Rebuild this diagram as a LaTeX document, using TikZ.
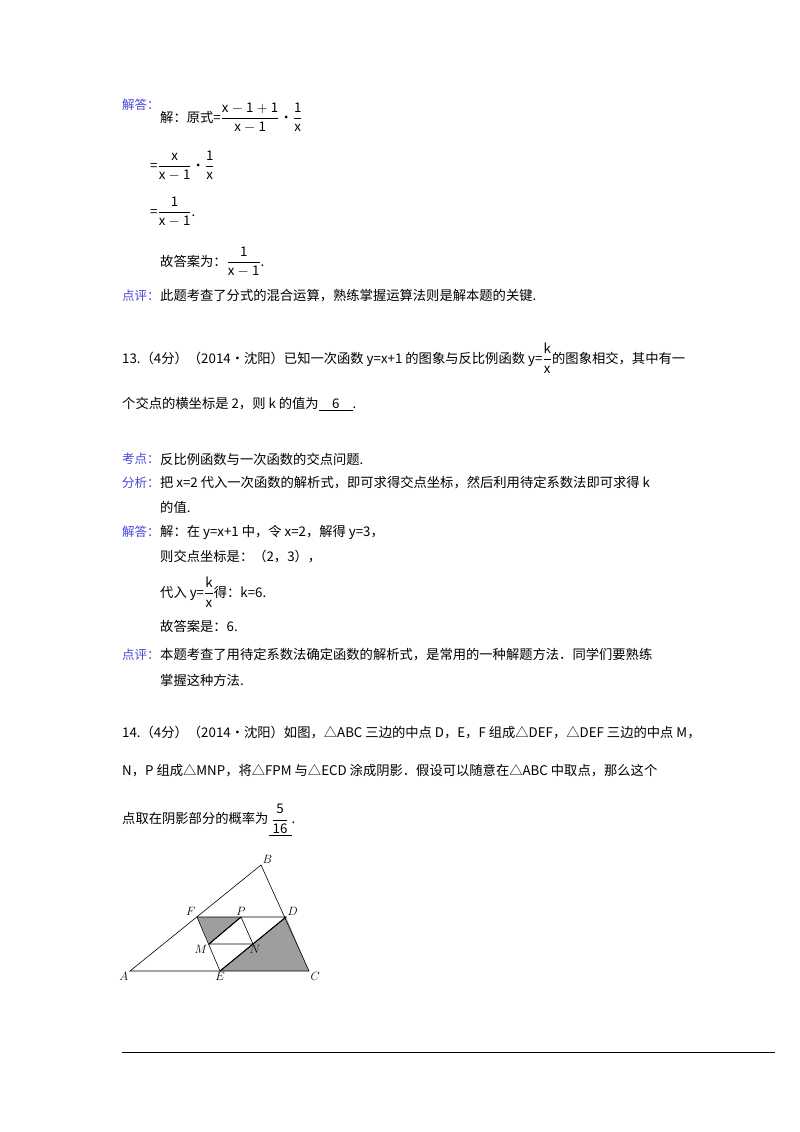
\documentclass[tikz,border=0pt]{standalone}
\usepackage{fontspec}
\usetikzlibrary{calc}
\setmainfont{Noto Sans CJK SC}
\definecolor{lab}{RGB}{70,70,220}
\newcommand{\fr}[2]{$\displaystyle\frac{\mathrm{#1}}{\mathrm{#2}}$}
\begin{document}
\begin{tikzpicture}[x=1pt,y=-1pt,
 t/.style={anchor=west,inner sep=0pt,font=\fontsize{13.3pt}{15pt}\selectfont},
 lb/.style={t,text=lab,font=\fontsize{12.5pt}{15pt}\selectfont},
 shade/.style={fill=black!38},
 seg/.style={line width=0.6pt}]
\useasboundingbox (0,0) rectangle (800,1132);
\node[lb] (l1) at (122,105) {解答：};
\node[t] (s1) at (160,118) {解：原式=\fr{x-1+1}{x-1}•\fr{1}{x}};
\node[t] (s2) at (150,166) {=\fr{x}{x-1}•\fr{1}{x}};
\node[t] (s3) at (150,212) {=\fr{1}{x-1}.};
\node[t] (s4) at (160,262) {故答案为：\fr{1}{x-1}.};
\node[lb] (l2) at (122,296) {点评：};
\node[t] (s5) at (160,296) {此题考查了分式的混合运算，熟练掌握运算法则是解本题的关键.};
\node[t] (q1) at (122,358) {13.（4分）（2014•沈阳）已知一次函数 y=x+1 的图象与反比例函数 y=\fr{k}{x}的图象相交，其中有一};
\node[t] (q2) at (122,404) {个交点的横坐标是 2，则 k 的值为\underline{\quad 6\quad }.};
\node[lb] (l3) at (122,459) {考点：};
\node[t] (a1) at (160,459) {反比例函数与一次函数的交点问题.};
\node[lb] (l4) at (122,483) {分析：};
\node[t] (a2) at (160,483) {把 x=2 代入一次函数的解析式，即可求得交点坐标，然后利用待定系数法即可求得 k};
\node[t] (a3) at (160,507) {的值.};
\node[lb] (l5) at (122,532) {解答：};
\node[t] (a4) at (160,532) {解：在 y=x+1 中，令 x=2，解得 y=3，};
\node[t] (a5) at (160,557) {则交点坐标是：（2，3），};
\node[t] (a6) at (160,592) {代入 y=\fr{k}{x}得：k=6.};
\node[t] (a7) at (160,626) {故答案是：6.};
\node[lb] (l6) at (122,655) {点评：};
\node[t] (a8) at (160,655) {本题考查了用待定系数法确定函数的解析式，是常用的一种解题方法．同学们要熟练};
\node[t] (a9) at (160,680) {掌握这种方法.};
\node[t] (p1) at (122,733) {14.（4分）（2014•沈阳）如图，△ABC 三边的中点 D，E，F 组成△DEF，△DEF 三边的中点 M，};
\node[t] (p2) at (122,771) {N，P 组成△MNP，将△FPM 与△ECD 涂成阴影．假设可以随意在△ABC 中取点，那么这个};
\node[t] (p3) at (122,820) {点取在阴影部分的概率为\underline{\ \fr{5}{16}\ }.};
% figure
\coordinate (A) at (130,971);
\coordinate (B) at (261,865);
\coordinate (C) at (309,971);
\coordinate (E) at (220,971);
\coordinate (D) at (286,917);
\coordinate (F) at (197,917);
\coordinate (P) at (241,917);
\coordinate (M) at (209,944);
\coordinate (N) at (253,944);
\fill[shade] (F)--(P)--(M)--cycle;
\fill[shade] (E)--(C)--(D)--cycle;
\draw[seg] (A)--(B)--(C)--cycle;
\draw[seg] (F)--(D)--(E)--cycle;
\draw[seg] (M)--(N)--(P)--cycle;
\draw[line width=1pt] (P)--(M);
\draw[line width=1pt] (E)--(D);
\tikzset{pl/.style={inner sep=1.5pt,font=\fontsize{12pt}{13pt}\selectfont}}
\node[pl,anchor=north east] (nA) at (A) {$A$};
\node[pl,anchor=south west] (nB) at (B) {$B$};
\node[pl,anchor=north west] (nC) at (C) {$C$};
\node[pl,anchor=north] (nE) at (E) {$E$};
\node[pl,anchor=south west] (nD) at (D) {$D$};
\node[pl,anchor=south east] (nF) at (F) {$F$};
\node[pl,anchor=south] (nP) at (P) {$P$};
\node[pl,anchor=north east] (nM) at (M) {$M$};
\node[pl,anchor=north] (nN) at ($(N)+(2,0)$) {$N$};
\draw[line width=0.8pt] (122,1052) -- (775,1052);
\end{tikzpicture}
\end{document}
